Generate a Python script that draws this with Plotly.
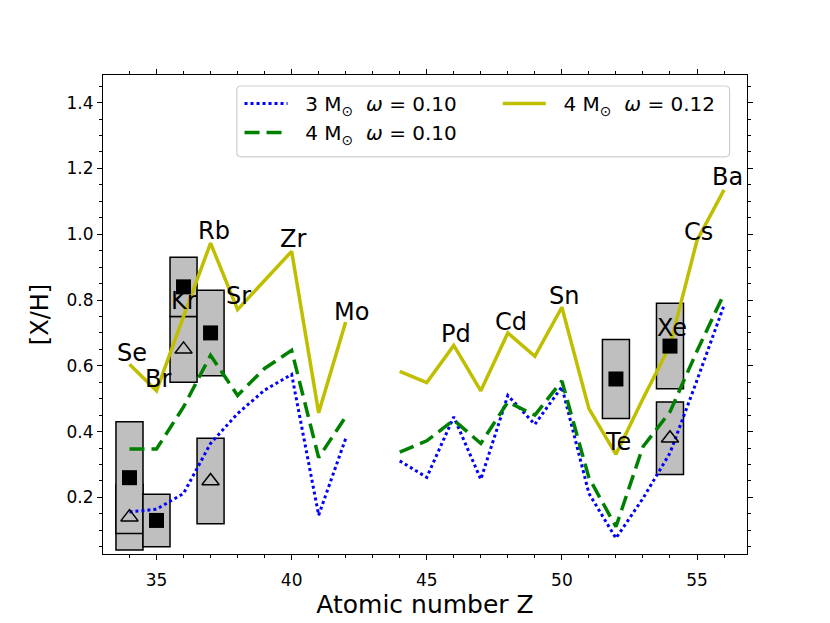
import plotly.graph_objects as go

# atomic numbers (Tc, Z=43, is missing -> gap in the model lines)
Z = list(range(34, 57))

m3_w010 = [0.156, 0.164, 0.212, 0.364, 0.455, 0.526, 0.574, 0.146, 0.379, None,
           0.311, 0.261, 0.445, 0.255, 0.510, 0.422, 0.536, 0.212, 0.076, 0.197,
           0.335, 0.556, 0.784]
m4_w010 = [0.347, 0.347, 0.475, 0.632, 0.510, 0.592, 0.647, 0.321, 0.445, None,
           0.338, 0.372, 0.435, 0.364, 0.490, 0.450, 0.554, 0.260, 0.111, 0.354,
           0.460, 0.645, 0.819]
m4_w012 = [0.605, 0.524, 0.750, 0.973, 0.771, 0.860, 0.948, 0.457, 0.733, None,
           0.583, 0.549, 0.662, 0.524, 0.700, 0.629, 0.778, 0.470, 0.331, 0.500,
           0.662, 0.981, 1.135]

# observations: filled squares and open triangles, with error boxes
sq_Z = [34, 35, 36, 37, 52, 54]
sq_val = [0.26, 0.13, 0.84, 0.70, 0.56, 0.66]
sq_err = [0.17, 0.08, 0.09, 0.13, 0.12, 0.13]
tri_Z = [34, 36, 37, 54]
tri_val = [0.14, 0.65, 0.25, 0.38]
tri_err = [0.10, 0.10, 0.13, 0.11]

# element labels
elements = ["Se", "Br", "Kr", "Rb", "Sr", "Zr", "Mo", "Pd", "Cd", "Sn", "Te", "Xe", "Cs", "Ba"]
elem_x = [34.11, 35.06, 36.0, 37.12, 38.04, 40.04, 42.21, 46.08, 48.11, 50.08, 52.07, 54.09, 55.06, 56.11]
elem_y = [0.638, 0.561, 0.797, 1.009, 0.811, 0.987, 0.765, 0.696, 0.734, 0.813, 0.368, 0.716, 1.007, 1.173]

FONT = "DejaVu Sans"
SP = "\u00a0\u00a0"

fig = go.Figure()

fig.add_trace(go.Scatter(x=Z, y=m3_w010, mode="lines", name=SP + "3 M<sub>⊙</sub>  <i>ω</i> = 0.10",
                         line=dict(color="#0000ff", width=3, dash="dot"), legend="legend"))
fig.add_trace(go.Scatter(x=Z, y=m4_w010, mode="lines", name=SP + "4 M<sub>⊙</sub>  <i>ω</i> = 0.10",
                         line=dict(color="#008000", width=3.5, dash="15px,7px"), legend="legend"))
fig.add_trace(go.Scatter(x=Z, y=m4_w012, mode="lines", name=SP + "4 M<sub>⊙</sub>  <i>ω</i> = 0.12",
                         line=dict(color="#bfbf00", width=3.5), legend="legend2"))

# error boxes: triangle boxes first, square boxes drawn over them
for zz, v, e in list(zip(tri_Z, tri_val, tri_err)) + list(zip(sq_Z, sq_val, sq_err)):
    fig.add_shape(type="rect", xref="x", yref="y", x0=zz - 0.5, x1=zz + 0.5,
                  y0=v - e, y1=v + e, fillcolor="#bfbfbf",
                  line=dict(color="black", width=1.5), layer="below")

fig.add_trace(go.Scatter(x=sq_Z, y=sq_val, mode="markers", showlegend=False,
                         marker=dict(symbol="square", size=15, color="black")))
fig.add_trace(go.Scatter(x=tri_Z, y=tri_val, mode="markers", showlegend=False,
                         marker=dict(symbol="triangle-up-open", size=15, color="black",
                                     line=dict(width=1.5, color="black"))))

for name, xx, yy in zip(elements, elem_x, elem_y):
    fig.add_annotation(x=xx, y=yy, text=name, showarrow=False,
                       font=dict(family=FONT, size=24, color="black"))

# legend frame (rounded rectangle, paper coordinates)
lx0, lx1, ly0, ly1 = 0.2078, 0.973, 0.829, 0.977
rx, ry = 0.007, 0.009
frame = (f"M {lx0 + rx},{ly1} L {lx1 - rx},{ly1} Q {lx1},{ly1} {lx1},{ly1 - ry} "
         f"L {lx1},{ly0 + ry} Q {lx1},{ly0} {lx1 - rx},{ly0} L {lx0 + rx},{ly0} "
         f"Q {lx0},{ly0} {lx0},{ly0 + ry} L {lx0},{ly1 - ry} Q {lx0},{ly1} {lx0 + rx},{ly1} Z")
fig.add_shape(type="path", xref="paper", yref="paper", path=frame, fillcolor="white",
              line=dict(color="#d0d0d0", width=1.2), layer="above")

axis_common = dict(showline=True, linecolor="black", linewidth=1.2, mirror="ticks",
                   ticks="outside", ticklen=5, tickwidth=1.2, tickcolor="black",
                   showgrid=False, zeroline=False,
                   tickfont=dict(family=FONT, size=17, color="black"))

fig.update_xaxes(range=[33.02, 56.85], tickmode="linear", tick0=35, dtick=5,
                 ticklabelstandoff=5,
                 minor=dict(dtick=1, ticks="outside", ticklen=3, tickcolor="black", tickwidth=1),
                 title=dict(text="Atomic number Z", font=dict(family=FONT, size=25, color="black"),
                            standoff=5),
                 **axis_common)
fig.update_yaxes(range=[0.028, 1.484], tickmode="linear", tick0=0.2, dtick=0.2, tickformat=".1f",
                 minor=dict(dtick=0.05, tick0=0, ticks="outside", ticklen=3, tickcolor="black", tickwidth=1),
                 title=dict(text="[X/H]", font=dict(family=FONT, size=24, color="black"),
                            standoff=11),
                 **axis_common)

leg_common = dict(bgcolor="rgba(0,0,0,0)", borderwidth=0, yanchor="top", y=0.981,
                  xanchor="left", font=dict(family=FONT, size=20, color="black"),
                  itemwidth=43, traceorder="normal")

# the page body adds an 8px margin, so the figure is sized to fit the window
fig.update_layout(
    width=822, height=615,
    margin=dict(l=95, r=83, t=67, b=69, autoexpand=False),
    plot_bgcolor="white", paper_bgcolor="white",
    font=dict(family=FONT, color="black"),
    legend=dict(x=0.212, **leg_common),
    legend2=dict(x=0.613, **leg_common),
)

fig.write_html("out.html")
